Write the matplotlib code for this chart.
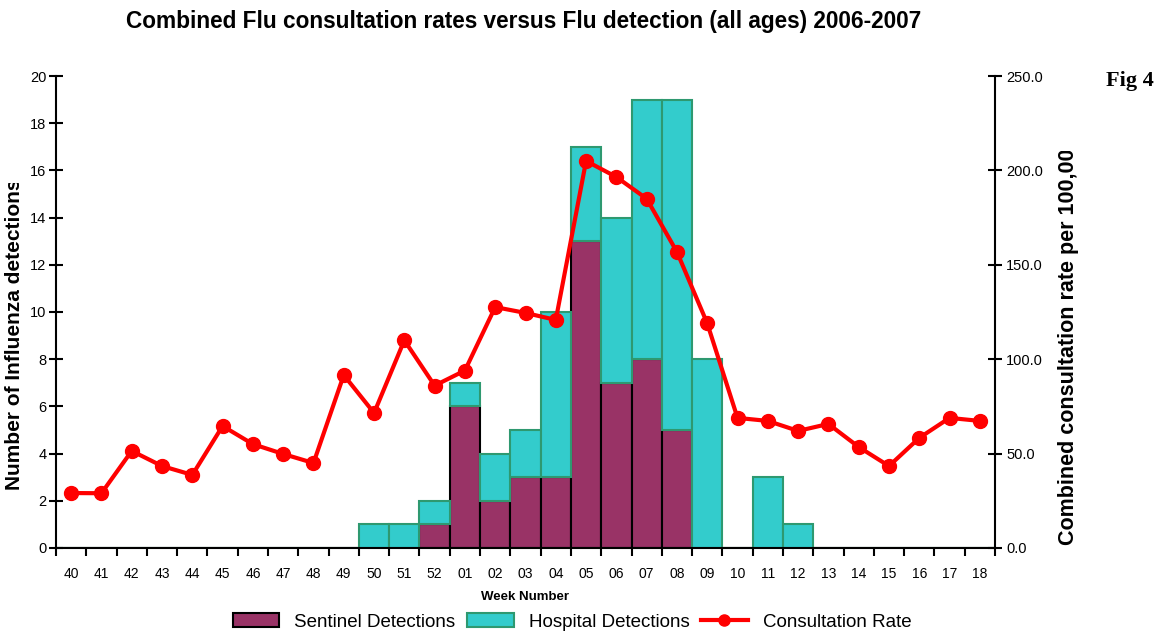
import numpy as np
import matplotlib
matplotlib.use("Agg")
import matplotlib.pyplot as plt
from matplotlib.lines import Line2D
from matplotlib.patches import Patch
from matplotlib.ticker import FormatStrFormatter
from matplotlib.transforms import Bbox, TransformedBbox

plt.rcParams['font.family'] = ['Liberation Sans', 'DejaVu Sans']

weeks = ['40', '41', '42', '43', '44', '45', '46', '47', '48', '49', '50', '51', '52',
         '01', '02', '03', '04', '05', '06', '07', '08', '09', '10', '11', '12', '13',
         '14', '15', '16', '17', '18']
sentinel = [0, 0, 0, 0, 0, 0, 0, 0, 0, 0, 0, 0, 1,
            6, 2, 3, 3, 13, 7, 8, 5, 0, 0, 0, 0, 0,
            0, 0, 0, 0, 0]
hospital = [0, 0, 0, 0, 0, 0, 0, 0, 0, 0, 1, 1, 1,
            1, 2, 2, 7, 4, 7, 11, 14, 8, 0, 3, 1, 0,
            0, 0, 0, 0, 0]
consult_rate = [29.1, 29.0, 51.4, 43.4, 38.7, 64.6, 55.0, 49.8, 45.0, 91.6, 71.5, 110.0, 86.0,
                94.0, 127.6, 124.5, 120.8, 205.0, 196.5, 185.0, 156.8, 119.0, 68.9, 67.3, 62.0, 65.7,
                53.5, 43.4, 58.3, 68.9, 67.3]

sent_col = '#993366'
hosp_col = '#33CCCC'
hosp_edge = '#2E9970'

x = np.arange(len(weeks))

fig = plt.figure(figsize=(11.67, 6.36), dpi=100)
ax = fig.add_axes([0.048, 0.1384, 0.8046, 0.7421])

ax.bar(x, sentinel, width=1.0, color=sent_col, edgecolor='black', linewidth=1.5, zorder=2)
ax.bar(x, hospital, width=1.0, bottom=sentinel, color=hosp_col, edgecolor=hosp_edge, linewidth=1.5, zorder=2)

ax.set_xlim(-0.5, len(weeks) - 0.5)
ax.set_ylim(0, 20)
ax.set_yticks(range(0, 21, 2))
ax.set_xticks(np.arange(-0.5, len(weeks) + 0.5, 1))
ax.set_xticklabels([])
ax.set_xticks(x, minor=True)
ax.set_xticklabels(weeks, minor=True)
ax.tick_params(axis='x', which='major', direction='out', length=6, width=1.5)
ax.tick_params(axis='x', which='minor', length=0, pad=14, labelsize=10)
ax.tick_params(axis='y', direction='inout', length=10, width=1.5, labelsize=10.5, pad=2)
for s in ['top', 'right']:
    ax.spines[s].set_visible(False)
for s in ['left', 'bottom']:
    ax.spines[s].set_linewidth(1.5)

ax2 = ax.twinx()
ax2.plot(x, consult_rate, color='#FF0000', linewidth=3, marker='o', markersize=10, zorder=3)
ax2.set_ylim(0, 250)
ax2.set_yticks(range(0, 251, 50))
ax2.yaxis.set_major_formatter(FormatStrFormatter('%.1f'))
ax2.tick_params(axis='y', direction='inout', length=10, width=1.5, labelsize=10.5, pad=3)
for s in ['top', 'left', 'bottom']:
    ax2.spines[s].set_visible(False)
ax2.spines['right'].set_linewidth(1.5)

# axis titles, cut off at the top as in the original
yl = fig.text(0.0125, 0.2296, 'Number of Influenza detections', rotation=90, ha='center', va='bottom',
              fontsize=15, fontweight='bold')
yl.set_clip_box(TransformedBbox(Bbox([[0, 0], [1, 0.712]]), fig.transFigure))
yl.set_clip_on(True)
yr = fig.text(0.9155, 0.143, 'Combined consultation rate per 100,000', rotation=90, ha='center', va='bottom',
              fontsize=15.5, fontweight='bold')
yr.set_clip_box(TransformedBbox(Bbox([[0, 0], [1, 0.763]]), fig.transFigure))
yr.set_clip_on(True)

fig.text(0.449, 0.966, 'Combined Flu consultation rates versus Flu detection (all ages) 2006-2007',
         ha='center', va='center', fontsize=16.3, fontweight='bold')
fig.text(0.968, 0.872, 'Fig 4', ha='center', va='center', fontsize=16, fontweight='bold',
         family='Liberation Serif')
fig.text(0.45, 0.062, 'Week Number', ha='center', va='center', fontsize=9.5, fontweight='bold')

handles = [Patch(facecolor=sent_col, edgecolor='black', linewidth=1.5),
           Patch(facecolor=hosp_col, edgecolor=hosp_edge, linewidth=1.5),
           Line2D([0], [0], color='#FF0000', linewidth=3, marker='o', markersize=8)]
fig.legend(handles, ['Sentinel Detections', 'Hospital Detections', 'Consultation Rate'],
           loc='center', bbox_to_anchor=(0.49, 0.022), ncol=3, frameon=False, fontsize=13.5,
           handlelength=2.5, columnspacing=0.6, handletextpad=0.8)

fig.savefig('out.png', dpi=100)
